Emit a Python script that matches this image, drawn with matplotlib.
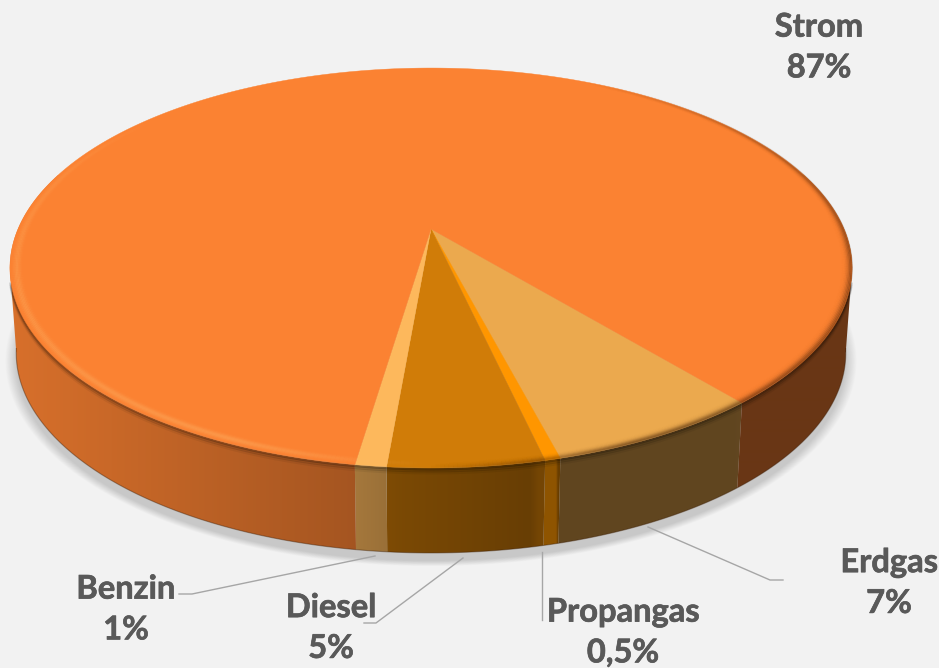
import numpy as np
import matplotlib
matplotlib.use("Agg")
import matplotlib.pyplot as plt
import matplotlib.patheffects as pe
from matplotlib.patches import Polygon
from matplotlib.collections import LineCollection
from matplotlib.colors import to_rgb

categories = ["Strom", "Erdgas", "Propangas", "Diesel", "Benzin"]
values = [87, 7, 0.5, 5, 1]
value_labels = ["87%", "7%", "0,5%", "5%", "1%"]
colors = ["#fb8232", "#eba94e", "#ff9600", "#d07c08", "#fdb85c"]

label_pos = [(819, 47.5), (889, 583), (623, 632.5), (331, 628), (126, 609.5)]
leaders = [
    None,
    [(648, 527), (770, 580), (783, 580)],
    [(542, 552), (542, 620)],
    [(463, 558), (376, 623), (364, 623)],
    [(375, 556), (192, 594), (179, 594)],
]

# projection of the tilted disc
XC, APEX_Y, R, A, C = 431, 229, 413, 147.7, -0.195
DEPTH, BOTTOM_SCALE = 85, 0.985
START = 39.8


def rim(theta_deg, r=1.0):
    t = np.radians(theta_deg)
    u, v = r * np.sin(t), r * np.cos(t)
    w = 1 + C * v
    return XC + R * u / w, (A * v + APEX_Y) / w


def low(theta_deg):
    x, y = rim(theta_deg)
    return XC + (x - XC) * BOTTOM_SCALE, y + DEPTH


def side_shade(x):
    return np.interp(x, [10, 350, 400, 530, 539, 556, 558, 735, 740, 852],
                     [0.86, 0.66, 0.59, 0.50, 0.56, 0.56, 0.41, 0.41, 0.42, 0.42])


W, H = 939, 668
fig = plt.figure(figsize=(W / 100, H / 100), dpi=100, facecolor="#f2f2f2")
ax = fig.add_axes([0, 0, 1, 1])
ax.set_xlim(0, W)
ax.set_ylim(H, 0)
ax.axis("off")

# wedge angle ranges, running clockwise on screen from the Erdgas/Strom edge
order = [1, 2, 3, 4, 0]
total = sum(values)
edges = {}
cur = START
for i in order:
    nxt = cur - values[i] / total * 360
    edges[i] = (cur, nxt)
    cur = nxt

# drop shadow
full = np.linspace(0, 360, 361)
sx, sy = low(full)
for k in range(14):
    s = 1 + 0.002 * k
    ax.add_patch(Polygon(np.c_[XC + (sx - XC) * s,
                               (sy - 268 - DEPTH) * s + 268 + DEPTH + 8],
                         closed=True, fc="black", ec="none", alpha=0.013, zorder=1))


def shaded_fill(vertices, base):
    poly = Polygon(vertices, closed=True, fc="none", ec="none", transform=ax.transData)
    ax.add_patch(poly)
    gx = np.arange(W) + 0.5
    row = (base[None, :] * side_shade(gx)[:, None])[None, :, :]
    im = ax.imshow(row, extent=(0, W, H, 0), aspect="auto", zorder=2,
                   interpolation="bilinear")
    im.set_clip_path(poly)


# sides
for i in order:
    a0, a1 = edges[i]
    th = np.linspace(a0, a1, max(int(abs(a0 - a1) * 2), 4))
    visible = np.cos(np.radians(th)) > -0.3
    cuts = np.flatnonzero(np.diff(visible.astype(int)))
    runs = np.split(np.arange(len(th)), cuts + 1)
    base = np.array(to_rgb(colors[i]))
    for run in runs:
        if not visible[run[0]] or len(run) < 2:
            continue
        t = th[run]
        xt, yt = rim(t)
        xb, yb = low(t)
        shaded_fill(np.r_[np.c_[xt, yt], np.c_[xb, yb][::-1]], base)

# fill the silhouette between the widest points of the top and bottom rims
ft = np.linspace(-180, 180, 721)
rx_, ry_ = rim(ft)
lx_, ly_ = low(ft)
strom_base = np.array(to_rgb(colors[0]))
for pick, inner in ((np.argmin, -50.0), (np.argmax, 50.0)):
    a, b = pick(rx_), pick(lx_)
    ix, iy = rim(np.array([inner]))
    shaded_fill(np.array([[rx_[a], ry_[a]], [lx_[b], ly_[b]], [ix[0], iy[0]]]), strom_base)

ax.set_xlim(0, W)
ax.set_ylim(H, 0)

# bottom dark edge
tb = np.linspace(-80, 80, 300)
bx, by = low(tb)
ax.plot(bx, by, color="#3a1c05", lw=0.8, alpha=0.4, zorder=3)

# top faces
for i in order:
    a0, a1 = edges[i]
    th = np.linspace(a0, a1, max(int(abs(a0 - a1) * 2), 4))
    x, y = rim(th)
    ax.add_patch(Polygon(np.r_[[[XC, APEX_Y]], np.c_[x, y]], closed=True,
                         fc=colors[i], ec=colors[i], lw=0.3, zorder=4))

# bevel around the top rim
th = np.linspace(-180, 180, 721)
mid = 0.5 * (th[:-1] + th[1:])
s_, c_ = np.sin(np.radians(mid)), np.cos(np.radians(mid))
light = np.clip(-s_ * 2.5, 0, 1) * np.clip(c_ + 0.7, 0, 1)
dark = np.clip(s_ * 2.5, 0, 1) * np.clip(c_ + 0.9, 0, 1)
radii = np.arange(0.999, 0.968, -0.003)
for r in radii:
    a_l = 0.18 * np.exp(-((r - 0.984) / 0.008) ** 2)
    a_d = 0.30 * np.exp(-((r - 1.0) / 0.010) ** 2)
    x, y = rim(th, r)
    segs = np.stack([np.c_[x[:-1], y[:-1]], np.c_[x[1:], y[1:]]], axis=1)
    rgba = np.zeros((len(mid), 4))
    rgba[:, :3] = np.where((dark > light)[:, None], [[0.2, 0.08, 0.0]], [[1.0, 0.75, 0.45]])
    rgba[:, 3] = np.where(dark > light, dark * a_d, light * a_l)
    ax.add_collection(LineCollection(segs, colors=rgba, linewidths=1.6, zorder=5,
                                     capstyle="butt"))

# soft shade directly beneath the front rim
tf = np.linspace(-75, 75, 300)
xf, yf = rim(tf)
for off, alpha in [(1.0, 0.22), (3.0, 0.13), (5.0, 0.06)]:
    ax.plot(xf, yf + off, color="black", lw=2.2, alpha=alpha, zorder=3,
            solid_capstyle="butt")

# leader lines and labels
for pts in leaders:
    if pts:
        p = np.array(pts)
        ax.plot(p[:, 0], p[:, 1], color="#a6a6a6", lw=1.0, zorder=6)

for name, pct, (x, y) in zip(categories, value_labels, label_pos):
    ax.text(x, y, f"{name}\n{pct}", ha="center", va="center", ma="center",
            family="Lato", weight="bold", fontsize=23.5, color="#595959",
            linespacing=1.49, zorder=7,
            path_effects=[pe.withStroke(linewidth=0.5, foreground="#595959")])

fig.savefig("out.png", dpi=100, facecolor=fig.get_facecolor())
